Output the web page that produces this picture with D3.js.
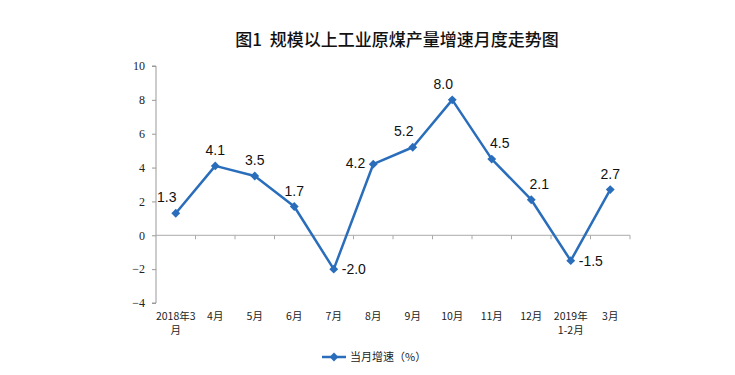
<!DOCTYPE html>
<html>
<head>
<meta charset="utf-8">
<script src="https://cdn.jsdelivr.net/npm/d3@7"></script>
<style>
  body { margin: 0; background: #fff; }
  svg { display: block; }
</style>
</head>
<body>
<div id="chart"></div>
<script>
// 数据
const months = ['2018年3月', '4月', '5月', '6月', '7月', '8月', '9月', '10月', '11月', '12月', '2019年1-2月', '3月'];
const monthLines = [['2018年3', '月'], ['4月'], ['5月'], ['6月'], ['7月'], ['8月'], ['9月'], ['10月'], ['11月'], ['12月'], ['2019年', '1-2月'], ['3月']];
const growth = [1.3, 4.1, 3.5, 1.7, -2.0, 4.2, 5.2, 8.0, 4.5, 2.1, -1.5, 2.7];
const yTicks = [-4, -2, 0, 2, 4, 6, 8, 10];
// 标签位置
const labelSide = ['upleft', 'up', 'up', 'up', 'right', 'left', 'upleft', 'upleft', 'upright', 'upright', 'right', 'up'];

const W = 735, H = 375;
const margin = {top: 66, right: 105, bottom: 72, left: 156};
const width = W - margin.left - margin.right;
const height = H - margin.top - margin.bottom;
const blue = '#2a6ebb';

const svg = d3.select('#chart').append('svg')
  .attr('width', W).attr('height', H);

svg.append('text')
  .attr('x', 397).attr('y', 46)
  .attr('text-anchor', 'middle')
  .style('font-family', '"Noto Sans CJK SC", sans-serif')
  .style('font-size', '17px')
  .style('font-weight', '500')
  .style('fill', '#111')
  .text('图1\u00a0\u00a0规模以上工业原煤产量增速月度走势图');

const g = svg.append('g').attr('transform', `translate(${margin.left},${margin.top})`);

const x = d3.scaleBand().domain(months).range([0, width]);
const y = d3.scaleLinear().domain([-4, 10]).range([height, 0]);

// Y轴
const yAxis = g.append('g')
  .call(d3.axisLeft(y).tickValues(yTicks).tickSize(4).tickFormat(d3.format('d')));
yAxis.select('.domain').attr('stroke', '#999').attr('d', `M-4,${y(-4)}H0V${y(10)}H-4`);
yAxis.selectAll('.tick line').attr('stroke', '#999');
yAxis.selectAll('.tick text')
  .attr('x', -11)
  .style('font-family', '"Liberation Serif", "DejaVu Serif", serif')
  .style('font-size', '12px')
  .style('fill', '#222');

// X轴 (0 线)
const xAxis = g.append('g').attr('transform', `translate(0,${y(0)})`);
xAxis.append('line')
  .attr('x1', 0).attr('x2', width)
  .attr('stroke', '#aaa');
xAxis.selectAll('.tk')
  .data(months.slice(1).concat(['end']))
  .enter().append('line')
  .attr('x1', (d, i) => (i + 1) * x.bandwidth())
  .attr('x2', (d, i) => (i + 1) * x.bandwidth())
  .attr('y1', 0).attr('y2', 4)
  .attr('stroke', '#aaa');

// 月份标签
const lbl = g.append('g').selectAll('text')
  .data(months)
  .enter().append('text')
  .attr('x', d => x(d) + x.bandwidth() / 2)
  .attr('y', height + 17)
  .attr('text-anchor', 'middle')
  .style('font-family', '"Noto Sans CJK SC", sans-serif')
  .style('font-size', '10.5px')
  .style('fill', '#222');
lbl.each(function(d, i) {
  const t = d3.select(this);
  monthLines[i].forEach((s, k) => {
    t.append('tspan')
      .attr('x', x(d) + x.bandwidth() / 2)
      .attr('dy', k === 0 ? 0 : 14)
      .text(s);
  });
});

// 折线
const line = d3.line()
  .x((d, i) => x(months[i]) + x.bandwidth() / 2)
  .y(d => y(d));

g.append('path')
  .datum(growth)
  .attr('d', line)
  .attr('fill', 'none')
  .attr('stroke', blue)
  .attr('stroke-width', 2.5)
  .attr('stroke-linejoin', 'round');

const diamond = d3.symbol().type(d3.symbolDiamond2).size(50);
g.selectAll('.pt')
  .data(growth)
  .enter().append('path')
  .attr('d', diamond)
  .attr('transform', (d, i) => `translate(${x(months[i]) + x.bandwidth() / 2},${y(d)})`)
  .attr('fill', blue);

// 数值标签
const off = {
  up: [0, -11, 'middle'],
  upleft: [-9, -11, 'middle'],
  upright: [8, -11, 'middle'],
  left: [-8, 4, 'end'],
  right: [8, 5, 'start']
};
g.selectAll('.val')
  .data(growth)
  .enter().append('text')
  .attr('x', (d, i) => x(months[i]) + x.bandwidth() / 2 + off[labelSide[i]][0])
  .attr('y', (d, i) => y(d) + off[labelSide[i]][1])
  .attr('text-anchor', (d, i) => off[labelSide[i]][2])
  .style('font-family', '"Liberation Sans", Arial, sans-serif')
  .style('font-size', '14px')
  .style('fill', '#111')
  .text(d => d.toFixed(1));

// 图例
const lg = svg.append('g').attr('transform', 'translate(322,357)');
lg.append('line').attr('x1', 0).attr('x2', 24).attr('stroke', blue).attr('stroke-width', 2.5);
lg.append('path').attr('d', diamond).attr('transform', 'translate(12,0)').attr('fill', blue);
lg.append('text')
  .attr('x', 28).attr('y', 4)
  .style('font-family', '"Noto Sans CJK SC", sans-serif')
  .style('font-size', '11px')
  .style('fill', '#222')
  .text('当月增速（%）');
</script>
</body>
</html>
